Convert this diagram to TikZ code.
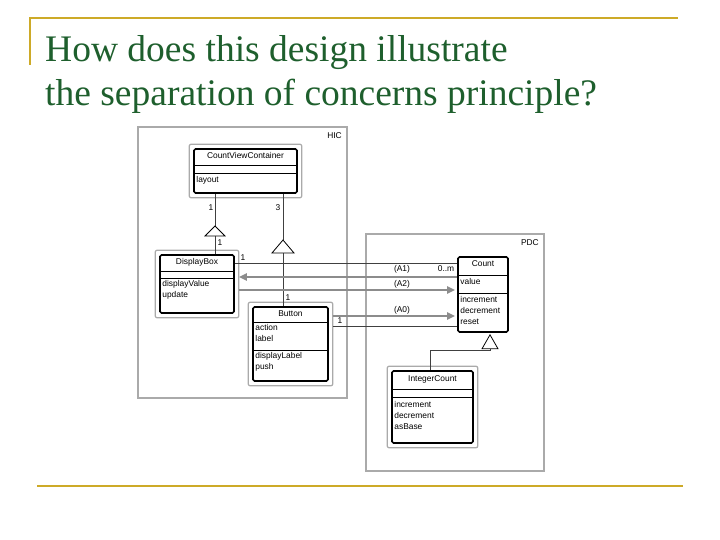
\documentclass[tikz,border=0pt]{standalone}
\usepackage{fontspec}
\setmainfont{Liberation Serif}
\newfontfamily\umlfont{Liberation Sans}
\usetikzlibrary{positioning, fit, arrows.meta}
\definecolor{titlegreen}{RGB}{30,95,45}
\definecolor{rulegold}{RGB}{205,170,40}
\definecolor{pkggray}{RGB}{170,170,170}
\tikzset{
  cls/.style={draw, line width=1.6pt, rounded corners=1.5pt, inner sep=0pt},
  frame/.style={draw=pkggray, line width=1.2pt, rounded corners=2pt, inner sep=4pt},
  pkg/.style={draw=pkggray, line width=2.2pt},
  txt/.style={font=\umlfont\fontsize{8.4}{10.8}\selectfont, inner sep=1pt, align=left},
  assoc/.style={line width=0.8pt, black!75},
  flow/.style={line width=2.2pt, black!45, -{Triangle[length=8pt,width=7pt]}},
  gen/.style={draw, line width=0.8pt, fill=white},
}
\begin{document}
\begin{tikzpicture}[x=1pt,y=-1pt]
\useasboundingbox (0,0) rectangle (720,540);

% title and rules
\draw[rulegold, line width=1.5pt] (30,65) -- (30,18) -- (678,18);
\draw[rulegold, line width=1.5pt] (37,486) -- (683,486);
\node[anchor=west, text=titlegreen, font=\fontsize{37.5}{44}\selectfont, align=left, inner sep=0pt]
  (title) at (45,74) {How does this design illustrate\\the separation of concerns principle?};

% packages
\draw[pkg] (138,127) rectangle (347,398);
\node[txt, anchor=north east] (hic) at (343,131) {HIC};
\draw[pkg] (366,234) rectangle (544,471);
\node[txt, anchor=north east] (pdc) at (540,238) {PDC};

% classes
\node[cls, minimum width=103pt, minimum height=44pt] (cvc) at (245.5,171) {};
\node[cls, minimum width=74pt, minimum height=58pt] (dbox) at (197,284) {};
\node[cls, minimum width=75pt, minimum height=74pt] (btn) at (290.5,344) {};
\node[cls, minimum width=50pt, minimum height=75pt] (cnt) at (483,294.5) {};
\node[cls, minimum width=81pt, minimum height=72pt] (icnt) at (432.5,407) {};
\foreach \c in {cvc,dbox,btn,icnt}
  \node[frame, fit=(\c)] {};

% CountViewContainer
\node[txt, below=3pt of cvc.north] {CountViewContainer};
\draw ([yshift=-17pt]cvc.north west) -- ([yshift=-17pt]cvc.north east);
\draw ([yshift=-25pt]cvc.north west) -- ([yshift=-25pt]cvc.north east);
\node[txt, anchor=north west] at ([xshift=2pt,yshift=-27pt]cvc.north west) {layout};

% DisplayBox
\node[txt, below=3pt of dbox.north] {DisplayBox};
\draw ([yshift=-17pt]dbox.north west) -- ([yshift=-17pt]dbox.north east);
\draw ([yshift=-24pt]dbox.north west) -- ([yshift=-24pt]dbox.north east);
\node[txt, anchor=north west] at ([xshift=2pt,yshift=-25pt]dbox.north west) {displayValue\\update};

% Button
\node[txt, below=3pt of btn.north] {Button};
\draw ([yshift=-16pt]btn.north west) -- ([yshift=-16pt]btn.north east);
\node[txt, anchor=north west] at ([xshift=2pt,yshift=-17pt]btn.north west) {action\\label};
\draw ([yshift=-44pt]btn.north west) -- ([yshift=-44pt]btn.north east);
\node[txt, anchor=north west] at ([xshift=2pt,yshift=-45pt]btn.north west) {displayLabel\\push};

% Count
\node[txt, below=3pt of cnt.north] {Count};
\draw ([yshift=-19pt]cnt.north west) -- ([yshift=-19pt]cnt.north east);
\node[txt, anchor=north west] at ([xshift=2pt,yshift=-21pt]cnt.north west) {value};
\draw ([yshift=-37pt]cnt.north west) -- ([yshift=-37pt]cnt.north east);
\node[txt, anchor=north west] at ([xshift=2pt,yshift=-39pt]cnt.north west) {increment\\decrement\\reset};

% IntegerCount
\node[txt, below=4pt of icnt.north] {IntegerCount};
\draw ([yshift=-19pt]icnt.north west) -- ([yshift=-19pt]icnt.north east);
\draw ([yshift=-27pt]icnt.north west) -- ([yshift=-27pt]icnt.north east);
\node[txt, anchor=north west] at ([xshift=2pt,yshift=-30pt]icnt.north west) {increment\\decrement\\asBase};

% aggregation links inside HIC
\coordinate (t1) at (215,226);
\coordinate (t2) at (283,240);
\draw[assoc] (cvc.south -| t1) -- (t1);
\draw[assoc] ([yshift=-10pt]t1) -- (dbox.north -| t1);
\draw[gen] (t1) -- ++(-10,10) -- ++(20,0) -- cycle;
\draw[assoc] (cvc.south -| t2) -- (t2);
\draw[assoc] ([yshift=-13pt]t2) -- (btn.north -| t2);
\draw[gen] (t2) -- ++(-11,13) -- ++(22,0) -- cycle;
\node[txt] at (211,208) {1};
\node[txt] at (220,243) {1};
\node[txt] at (278,208) {3};
\node[txt] at (288,298) {1};

% generalization IntegerCount -> Count
\coordinate (gk) at (490,350);
\draw[assoc] (icnt.north -| 430,0) |- (gk) -- ([yshift=-4pt]cnt.south -| gk);
\draw[gen] ([yshift=-2pt]cnt.south -| gk) -- ++(-8,14) -- ++(16,0) -- cycle;

% associations and flows between packages
\draw[assoc] (dbox.east |- 0,263) -- (cnt.west |- 0,263);
\draw[flow] (cnt.west |- 0,277) -- ([xshift=4pt]dbox.east |- 0,277);
\draw[flow] ([xshift=4pt]dbox.east |- 0,290) -- ([xshift=-2pt]cnt.west |- 0,290);
\draw[flow] ([xshift=4pt]btn.east |- 0,316) -- ([xshift=-2pt]cnt.west |- 0,316);
\draw[assoc] ([xshift=4pt]btn.east |- 0,326) -- (cnt.west |- 0,326);
\node[txt] at (243,258) {1};
\node[txt] at (446,269) {0..m};
\node[txt] at (402,269) {(A1)};
\node[txt] at (402,284) {(A2)};
\node[txt] at (402,310) {(A0)};
\node[txt] at (340,321) {1};

\end{tikzpicture}
\end{document}
